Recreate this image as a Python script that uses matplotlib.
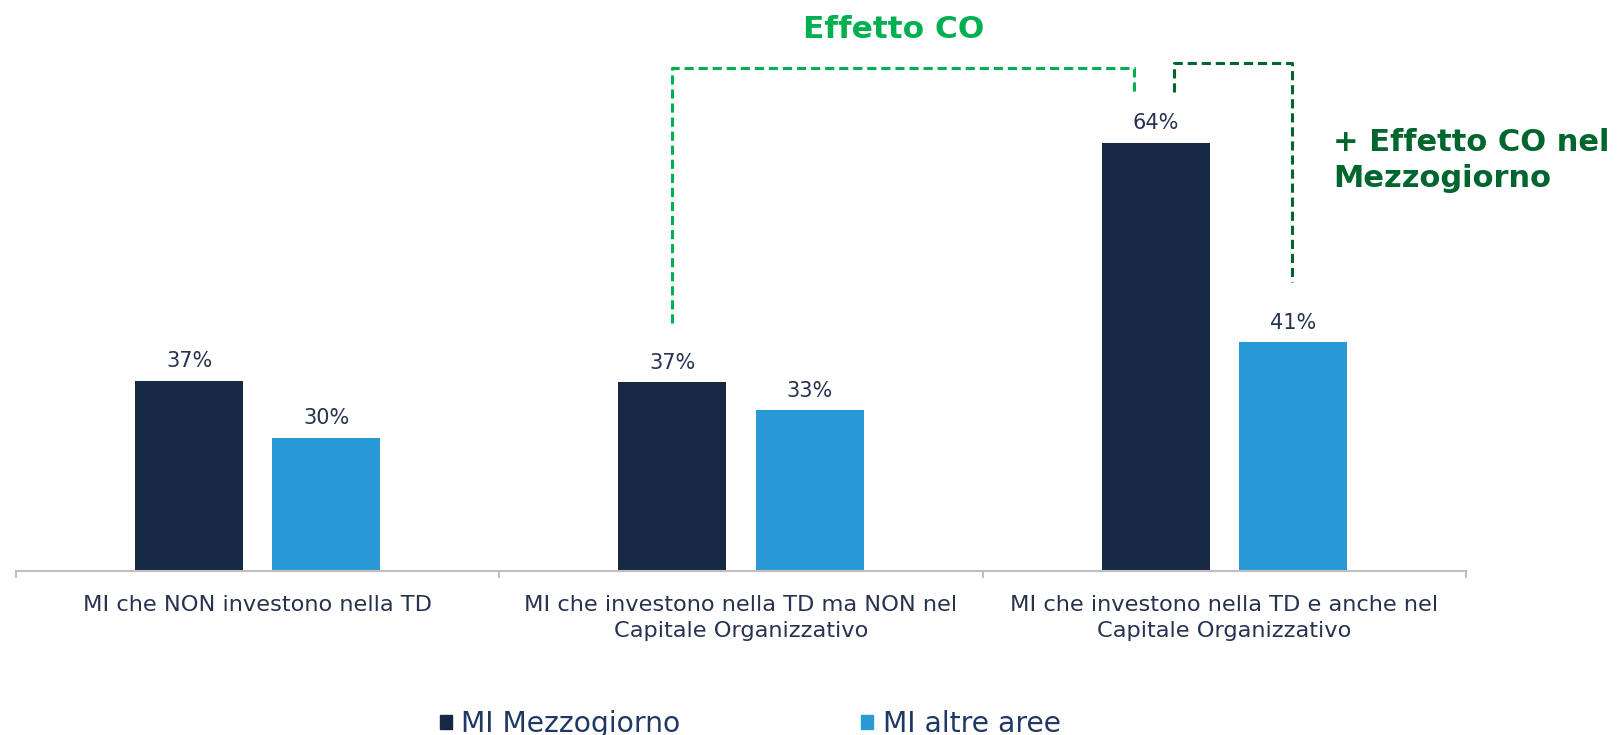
import matplotlib.pyplot as plt
from matplotlib.patches import Patch

# dati
categorie = ["MI che NON investono nella TD",
             "MI che investono nella TD ma NON nel\nCapitale Organizzativo",
             "MI che investono nella TD e anche nel\nCapitale Organizzativo"]
mezzogiorno = [36.8, 36.6, 64.1]
altre_aree = [30.2, 33.4, 41.2]
serie_nomi = ["MI Mezzogiorno", "MI altre aree"]

col_dark = "#172845"
col_light = "#2999d6"
col_text = "#26324f"
verde = "#00b050"
verde_scuro = "#00662e"

plt.rcParams['font.family'] = ['DejaVu Sans']

fig = plt.figure(figsize=(16.17, 7.35), dpi=100)
ax = fig.add_axes([16 / 1617, (735 - 570.7) / 735, 1450 / 1617, 566.8 / 735])

x = list(range(len(categorie)))
w = 0.2235
off = 0.142

b1 = ax.bar([i - off for i in x], mezzogiorno, width=w, bottom=0, color=col_dark)
b2 = ax.bar([i + off for i in x], altre_aree, width=w, bottom=0, color=col_light)

for bars, vals in [(b1, mezzogiorno), (b2, altre_aree)]:
    ax.bar_label(bars, labels=[f"{v:.0f}%" for v in vals], padding=7,
                 fontsize=15, color=col_text)

ax.set_xlim(-0.5, 2.5)
ax.set_ylim(15, 80)

# assi
for s in ["top", "right", "left"]:
    ax.spines[s].set_visible(False)
ax.spines["bottom"].set_color("#bfbfbf")
ax.spines["bottom"].set_linewidth(1.5)
ax.set_yticks([])

ax.set_xticks(x)
ax.set_xticklabels(categorie, fontsize=16.2, color=col_text, linespacing=1.35)
ax.tick_params(axis="x", which="major", length=0, pad=17.5)
ax.set_xticks([-0.5, 0.5, 1.5, 2.5], minor=True)
ax.tick_params(axis="x", which="minor", length=5, width=1.5, color="#bfbfbf")

# parentesi tratteggiate
ls = (0, (3, 1.6))
ax.plot([0.858, 0.858, 1.813, 1.813], [43.4, 72.7, 72.7, 69.9],
        color=verde, lw=2.2, linestyle=ls, clip_on=False)
ax.plot([1.895, 1.895, 2.14, 2.14], [69.9, 73.2, 73.2, 48.1],
        color=verde_scuro, lw=2.2, linestyle=ls, clip_on=False)

ax.text(1.316, 77.1, "Effetto CO", color=verde, fontsize=22.5,
        fontweight="bold", ha="center", va="center")
ax.text(2.225, 62.0, "+ Effetto CO nel\nMezzogiorno", color=verde_scuro,
        fontsize=22, fontweight="bold", ha="left", va="center", linespacing=1.3)

# legenda
handles = [Patch(facecolor=col_dark, edgecolor=col_dark, label=serie_nomi[0]),
           Patch(facecolor="#2a9ad6", edgecolor="#2a9ad6", label=serie_nomi[1])]
leg = fig.legend(handles=handles, loc="center", bbox_to_anchor=(0.464, 0.015),
                 ncol=2, frameon=False, fontsize=20.3, handlelength=0.42,
                 handleheight=0.42, handletextpad=0.35, columnspacing=6.4)
for t in leg.get_texts():
    t.set_color("#1f3864")

fig.savefig("out.png", dpi=100)
